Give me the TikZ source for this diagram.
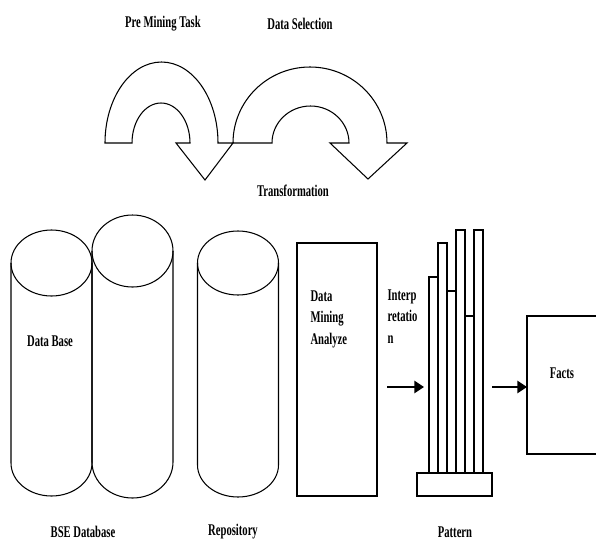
\documentclass[tikz,border=0pt]{standalone}
\usepackage{fontspec}
\newfontfamily\lblfont[FakeStretch=0.65]{Liberation Serif}
\usetikzlibrary{arrows.meta}
\tikzset{lbl/.style={font=\lblfont\bfseries\fontsize{9.3}{12.2}\selectfont,inner sep=0pt}}
\tikzset{flow/.style={-{Triangle[length=5.5pt,width=7pt]},line width=1.1pt}}
\tikzset{outline/.style={line width=0.6pt}}

\begin{document}
\begin{tikzpicture}[x=0.02cm,y=-0.02cm,outline]
  \useasboundingbox (0,0) rectangle (596,542);
  \draw (105,143) arc[start angle=180,end angle=360,x radius=56.5,y radius=81]
        -- (233,143) -- (205,180) -- (176,143) -- (190,143)
        arc[start angle=360,end angle=180,x radius=29,y radius=40] -- cycle;
  \draw (233,143) arc[start angle=180,end angle=360,x radius=77,y radius=76]
        -- (407,143) -- (368,179) -- (330,143) -- (349,143)
        arc[start angle=360,end angle=180,x radius=38.5,y radius=37] -- cycle;
  \node[lbl] (premining) at (163,24) {Pre Mining Task};
  \node[lbl] (selection) at (300,24) {Data Selection};
  \node[lbl] (transform) at (293,191) {Transformation};
        \foreach \cx/\ty/\by/\ry in {51.5/263/463/33,132.5/251/462/36,238/263/465/32}
        {
          \draw (\cx,\ty) ellipse [x radius=40.5,y radius=\ry];
          \draw (\cx-40.5,\ty) -- (\cx-40.5,\by)
                arc[start angle=180,end angle=0,x radius=40.5,y radius=\ry] -- (\cx+40.5,\ty);
        }
  \node[lbl] (database) at (50,341) {Data Base};
  \node[lbl] (bse) at (83,532) {BSE Database};
  \node[lbl] (repository) at (233,532) {Repository};
  \draw (297,243) rectangle (377,496);
  \node[lbl,align=left,anchor=north west] (mining) at (310,290) {Data\\Mining\\Analyze};
  \node[lbl,align=left,anchor=north west] (interp) at (387,289) {Interp\\retatio\\n};
  \draw (417,473) rectangle (492,496);
        \foreach \bx/\bt in {429/277,438/243,447/291,456/230,465/316,474/230}
          \draw (\bx,473) rectangle (\bx+9,\bt);
  \node[lbl] (pattern) at (455,532) {Pattern};
  \draw (598,316) rectangle (527,454);
  \node[lbl] (facts) at (562,373) {Facts};
  \coordinate (toPattern) at (387,387);
  \coordinate (atPattern) at (424,387);
  \coordinate (fromPattern) at (492,387);
  \coordinate (atFacts) at (527,387);
  \draw[flow] (toPattern) -- (atPattern);
  \draw[flow] (fromPattern) -- (atFacts);
\end{tikzpicture}
\end{document}
